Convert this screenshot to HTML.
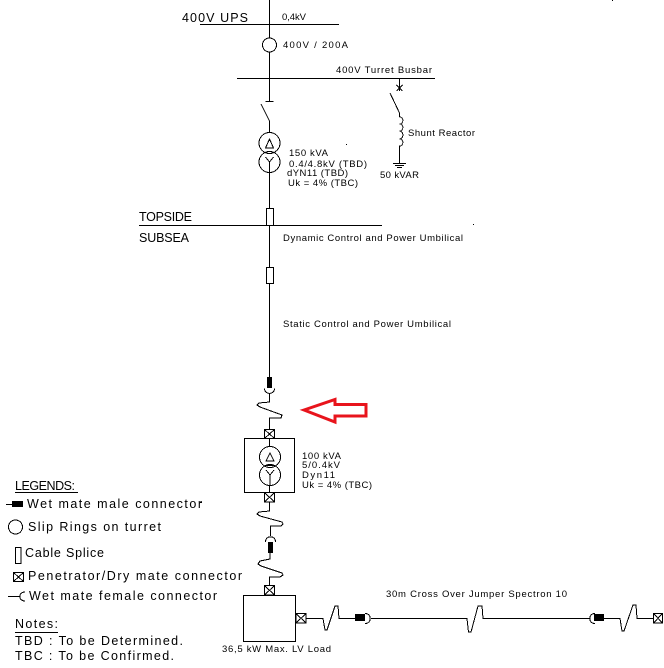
<!DOCTYPE html>
<html><head><meta charset="utf-8"><style>
html,body{margin:0;padding:0;background:#fff;width:664px;height:668px;overflow:hidden}
svg{display:block}
text{font-family:"Liberation Sans",sans-serif;fill:#000}
.s{font-size:9.5px}.m{font-size:11px}.l{font-size:12.5px}
.g{fill:none;stroke:#000;stroke-width:1;shape-rendering:crispEdges}
</style></head><body>
<svg width="664" height="668" viewBox="0 0 664 668" xmlns="http://www.w3.org/2000/svg">
<rect width="664" height="668" fill="#fff"/>
<g class="g">
<path d="M269.5 0V38M200 24.5H339M269.5 52V101M237 78.5H435M265.5 101.5H273.5"/>
<circle cx="269.5" cy="45" r="7"/>
<path d="M261 104L269.5 121V133"/>
<circle cx="269.5" cy="143" r="10.5"/><circle cx="269.5" cy="162" r="10.5"/>
<path d="M265.5 148L269.5 139L273.5 148Z"/>
<path d="M265.5 157L269.5 162L273.5 157M269.5 162V172M269.5 172V208"/>
<rect x="266.5" y="208.5" width="7" height="17"/>
<path d="M139 225.5H382M269.5 225V267"/>
<rect x="266.5" y="267.5" width="7" height="16"/>
<path d="M269.5 284V377"/>
<path d="M399.5 78V91M396.5 85L402.5 91M402.5 85L396.5 91M390 93L399.5 113V117"/>
<path d="M399.5 117C404 117 404 124 399.5 124C404 124 404 131 399.5 131C404 131 404 139 399.5 139C404 139 404 146 399.5 146V163"/>
<path d="M393 163.5H406M395 165.5H404M397 167.5H402"/>
<path d="M264.500 388.500C264.500 395 274.500 395 274.500 388.500M269.500 393V402L259 403L257 405L260 407L282 415L281 418H269.500V430"/>
<rect x="264.500" y="429.500" width="10" height="9"/><path d="M264.500 429.500L274.500 438.500M274.500 429.500L264.500 438.500"/>
<rect x="244.500" y="438.500" width="50" height="54"/>
<path d="M269.500 438V447"/>
<circle cx="270" cy="457" r="10.500"/><circle cx="270" cy="475" r="10.500"/>
<path d="M266 461L270 453L274 461Z"/>
<path d="M266 470L270 475L274 470M270 475V485M269.500 485V493M265 465.500H275"/>
<rect x="264.500" y="492.500" width="10" height="9.500"/><path d="M264.500 492.500L274.500 502M274.500 492.500L264.500 502"/>
<path d="M269.500 502V511L259 512L257 514L260 516L282 522L283 524L281 526H270.500V536"/>
<path d="M265.500 542C265.500 535 275.500 535 275.500 542"/>
<path d="M270 553V559L260 561L258 564L261 566L282 573L283 575L280 577H269.500V585"/>
<rect x="264.500" y="585.500" width="10" height="9.500"/><path d="M264.500 585.500L274.500 595M274.500 585.500L264.500 595"/>
<rect x="243.500" y="595.500" width="52" height="46"/>
<rect x="296" y="613.500" width="10" height="9.500"/><path d="M296 613.500L306 623M306 613.500L296 623"/>
<path d="M306 618.500H323L325 630L327 630L335 606H338L339 618.500H355"/>
<path d="M365 613.500C372 613.500 372 623.500 365 623.500M371 618.500H467L468.500 632L471 632L478 606H482L483 618.500H590"/>
<path d="M595 613.500C588 613.500 588 623.500 595 623.500M604 618.500H620L622 631L624 631L633 605H636L637 618.500H653"/>
<rect x="653.500" y="613.500" width="9" height="9.500"/><path d="M653.500 613.500L662.500 623M662.500 613.500L653.500 623"/>
<path d="M6 504.500H12"/>
<circle cx="15.500" cy="527" r="7"/>
<rect x="15.500" y="547.500" width="5.500" height="16"/>
<rect x="13.500" y="572.500" width="10" height="9"/><path d="M13.500 572.500L23.500 581.500M23.500 572.500L13.500 581.500"/>
<path d="M8 596.500H20M25 592C18 592 18 601 25 601"/>
<path d="M15 492.500H78M15 632.500H58"/>
</g>
<g fill="#000">
<rect x="267" y="377" width="5" height="11"/>
<rect x="268" y="542" width="5" height="11"/>
<rect x="355" y="614" width="10" height="7"/>
<rect x="594" y="614" width="10" height="7"/>
<rect x="12" y="501" width="11" height="6"/>
<rect x="346" y="144" width="1" height="1"/>
<rect x="473" y="224" width="1" height="1"/>
<rect x="200" y="502" width="2" height="1"/>
<rect x="612" y="0" width="1" height="1"/>
</g>
<path d="M304 410L335 399.500V404.500H366V416H335V422Z" fill="none" stroke="#e8141c" stroke-width="3"/>

<text x="182" y="22" class="l" textLength="66" lengthAdjust="spacing">400V UPS</text>
<text x="282" y="20" class="s" textLength="24" lengthAdjust="spacing">0,4kV</text>
<text x="283" y="48" class="s" textLength="65" lengthAdjust="spacing">400V / 200A</text>
<text x="336" y="73" class="s" textLength="96" lengthAdjust="spacing">400V Turret Busbar</text>
<text x="408" y="136" class="s" textLength="67" lengthAdjust="spacing">Shunt Reactor</text>
<text x="289" y="156" class="s" textLength="39" lengthAdjust="spacing">150 kVA</text>
<text x="289" y="167" class="s" textLength="78" lengthAdjust="spacing">0.4/4.8kV (TBD)</text>
<text x="287" y="176" class="s" textLength="61" lengthAdjust="spacing">dYN11 (TBD)</text>
<text x="288" y="186" class="s" textLength="70" lengthAdjust="spacing">Uk = 4% (TBC)</text>
<text x="380" y="178" class="s" textLength="39" lengthAdjust="spacing">50 kVAR</text>
<text x="139" y="221" class="l" textLength="53" lengthAdjust="spacing">TOPSIDE</text>
<text x="139" y="242" class="l" textLength="50" lengthAdjust="spacing">SUBSEA</text>
<text x="283" y="241" class="s" textLength="180" lengthAdjust="spacing">Dynamic Control and Power Umbilical</text>
<text x="283" y="327" class="s" textLength="168" lengthAdjust="spacing">Static Control and Power Umbilical</text>
<text x="302" y="459" class="s" textLength="39" lengthAdjust="spacing">100 kVA</text>
<text x="302" y="468" class="s" textLength="38" lengthAdjust="spacing">5/0.4kV</text>
<text x="302" y="478" class="s" textLength="33" lengthAdjust="spacing">Dyn11</text>
<text x="302" y="488" class="s" textLength="70" lengthAdjust="spacing">Uk = 4% (TBC)</text>
<text x="15" y="490" class="l" textLength="60" lengthAdjust="spacing">LEGENDS:</text>
<text x="27" y="508" class="l" textLength="175" lengthAdjust="spacing">Wet mate male connector</text>
<text x="28" y="531" class="l" textLength="133" lengthAdjust="spacing">Slip Rings on turret</text>
<text x="25" y="557" class="l" textLength="79" lengthAdjust="spacing">Cable Splice</text>
<text x="28" y="580" class="l" textLength="214" lengthAdjust="spacing">Penetrator/Dry mate connector</text>
<text x="29" y="600" class="l" textLength="188" lengthAdjust="spacing">Wet mate female connector</text>
<text x="15" y="628" class="l" textLength="43" lengthAdjust="spacing">Notes:</text>
<text x="15" y="645" class="l" textLength="168" lengthAdjust="spacing">TBD : To be Determined.</text>
<text x="15" y="660" class="l" textLength="159" lengthAdjust="spacing">TBC : To be Confirmed.</text>
<text x="222" y="652" class="s" textLength="109" lengthAdjust="spacing">36,5 kW Max. LV Load</text>
<text x="386" y="597" class="s" textLength="181" lengthAdjust="spacing">30m Cross Over Jumper Spectron 10</text>
</svg>
</body></html>
